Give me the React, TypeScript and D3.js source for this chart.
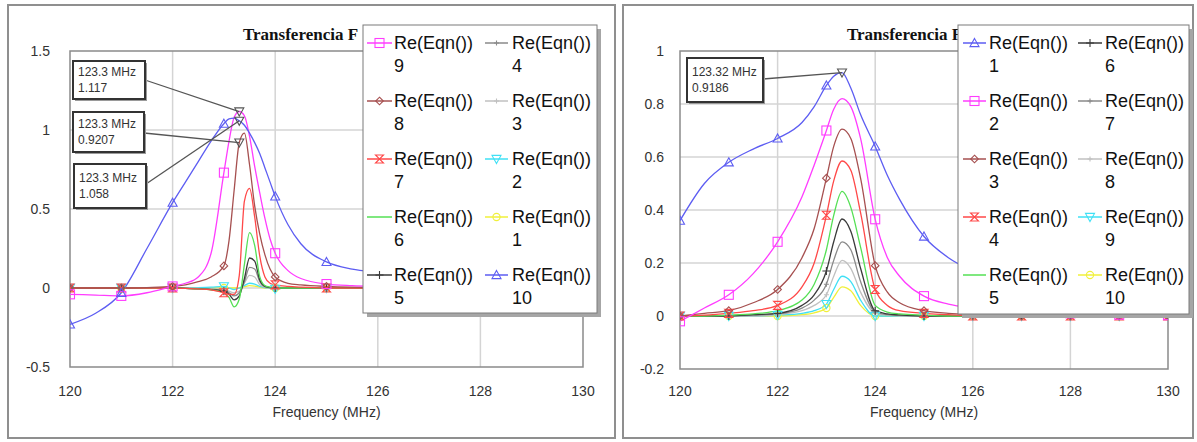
import React from "react";
import * as d3 from "d3";

// ---------- DATA ----------
const freqLeft = [120, 120.5, 121, 121.5, 122, 122.25, 122.5, 122.75, 123, 123.1, 123.2, 123.3, 123.4, 123.5, 123.6, 123.7, 123.8, 123.9, 124, 124.25, 124.5, 125, 125.5, 126, 127, 128, 129, 130];
const left10 = [-0.23, -0.16, -0.03, 0.25, 0.54, 0.67, 0.8, 0.93, 1.04, 1.07, 1.075, 1.058, 1.03, 0.98, 0.92, 0.85, 0.76, 0.67, 0.58, 0.4, 0.28, 0.165, 0.12, 0.1, 0.07, 0.05, 0.04, 0.035];
const left9 = [-0.04, -0.045, -0.05, -0.03, 0.01, 0.03, 0.07, 0.22, 0.73, 0.93, 1.08, 1.117, 1.09, 0.96, 0.77, 0.6, 0.44, 0.31, 0.22, 0.11, 0.06, 0.025, 0.015, 0.01, 0.005, 0.003, 0.002, 0.001];
const left8 = [0, 0, 0, 0.003, 0.01, 0.02, 0.04, 0.07, 0.14, 0.3, 0.62, 0.9207, 0.98, 0.78, 0.52, 0.34, 0.21, 0.12, 0.07, 0.03, 0.02, 0.01, 0.005, 0.003, 0, 0, 0, 0];
const left7 = [0, 0, 0, 0, 0, -0.003, -0.006, -0.012, -0.03, -0.04, -0.04, 0.08, 0.55, 0.63, 0.45, 0.2, 0.07, 0.03, 0.02, 0.01, 0.005, 0, 0, 0, 0, 0, 0, 0];
const left6 = [0, 0, 0, 0, 0, -0.003, -0.006, -0.012, -0.03, -0.06, -0.12, -0.07, 0.15, 0.35, 0.27, 0.07, 0.015, 0.005, 0, 0, 0, 0, 0, 0, 0, 0, 0, 0];
const left5 = [0, 0, 0, 0, 0, -0.002, -0.005, -0.01, -0.02, -0.04, -0.075, -0.05, 0.06, 0.19, 0.17, 0.05, 0.01, 0.003, 0, 0, 0, 0, 0, 0, 0, 0, 0, 0];
const left4 = [0, 0, 0, 0, 0, -0.002, -0.004, -0.008, -0.015, -0.03, -0.05, -0.03, 0.04, 0.13, 0.12, 0.04, 0.008, 0.002, 0, 0, 0, 0, 0, 0, 0, 0, 0, 0];
const left3 = [0, 0, 0, 0, 0, -0.001, -0.003, -0.005, -0.01, -0.02, -0.03, -0.02, 0.03, 0.08, 0.07, 0.02, 0.005, 0, 0, 0, 0, 0, 0, 0, 0, 0, 0, 0];
const left2 = [0, 0, 0, 0, 0, 0, 0.002, 0.005, 0.01, 0, -0.01, 0, 0.015, 0.03, 0.025, 0.01, 0.003, 0, -0.005, 0, 0, 0, 0, 0, 0, 0, 0, 0];
const left1 = [0, 0, 0, 0, 0, 0, 0, 0, 0, 0, 0, 0, 0.008, 0.015, 0.012, 0.005, 0, 0, 0, 0, 0, 0, 0, 0, 0, 0, 0, 0];

const freqRight = [120, 120.5, 121, 121.5, 122, 122.5, 122.75, 123, 123.15, 123.32, 123.5, 123.7, 124, 124.25, 124.5, 125, 125.5, 126, 127, 128, 129, 130];
const right1 = [0.36, 0.5, 0.58, 0.63, 0.67, 0.73, 0.79, 0.87, 0.905, 0.9186, 0.86, 0.76, 0.64, 0.53, 0.44, 0.3, 0.22, 0.17, 0.11, 0.08, 0.06, 0.05];
const right2 = [-0.02, 0.03, 0.08, 0.16, 0.28, 0.45, 0.57, 0.7, 0.78, 0.82, 0.79, 0.67, 0.365, 0.22, 0.15, 0.075, 0.045, 0.03, 0.015, 0.01, 0.005, 0.003];
const right3 = [0, 0.01, 0.02, 0.05, 0.1, 0.22, 0.33, 0.52, 0.64, 0.705, 0.67, 0.52, 0.19, 0.09, 0.05, 0.02, 0.01, 0.005, 0, 0, 0, 0];
const right4 = [0, 0.003, 0.01, 0.02, 0.04, 0.11, 0.2, 0.38, 0.51, 0.585, 0.55, 0.39, 0.1, 0.04, 0.02, 0.01, 0.005, 0, 0, 0, 0, 0];
const right5 = [0, 0, 0.003, 0.008, 0.02, 0.06, 0.12, 0.25, 0.38, 0.47, 0.41, 0.26, 0.04, 0.015, 0.008, 0.003, 0, 0, 0, 0, 0, 0];
const right6 = [0, 0, 0, 0.005, 0.01, 0.04, 0.08, 0.17, 0.28, 0.366, 0.32, 0.18, 0.02, 0.008, 0.004, 0, 0, 0, 0, 0, 0, 0];
const right7 = [0, 0, 0, 0.003, 0.008, 0.03, 0.06, 0.12, 0.21, 0.28, 0.25, 0.13, 0.015, 0.005, 0.002, 0, 0, 0, 0, 0, 0, 0];
const right8 = [0, 0, 0, 0, 0.005, 0.02, 0.04, 0.08, 0.15, 0.21, 0.18, 0.09, 0.01, 0.003, 0, 0, 0, 0, 0, 0, 0, 0];
const right9 = [0, 0, 0, 0, 0.003, 0.01, 0.02, 0.045, 0.1, 0.15, 0.13, 0.06, 0, 0, 0, 0, 0, 0, 0, 0, 0, 0];
const right10 = [0, 0, 0, 0, 0, 0.005, 0.012, 0.03, 0.07, 0.11, 0.095, 0.04, 0, 0, 0, 0, 0, 0, 0, 0, 0, 0];

const xTicks = [120, 122, 124, 126, 128, 130];
const yTicksLeft = [-0.5, 0, 0.5, 1, 1.5];
const yTicksRight = [-0.2, 0, 0.2, 0.4, 0.6, 0.8, 1];

const seriesName = "Re(Eqn())";
const titleText = "Transferencia F";
const xAxisTitle = "Frequency (MHz)";

// style slots: blue, magenta, brown, red, green, dark grey, grey, light grey, cyan, yellow
const slotColors = ["#5d5df2", "#ff3cff", "#a65050", "#ff4848", "#55e055", "#3a3a3a", "#8a8a8a", "#c0c0c0", "#3fe0f5", "#f0f03a"];
const slotMarkers = ["triUp", "square", "diamond", "hourglass", "none", "plus", "plusSmall", "plusSmall", "triDown", "circle"];

const leftLabels = ["10", "9", "8", "7", "6", "5", "4", "3", "2", "1"];
const leftValues = [left10, left9, left8, left7, left6, left5, left4, left3, left2, left1];
const leftLegendOrder = [1, 2, 3, 4, 5, 6, 7, 8, 9, 0];

const rightLabels = ["1", "2", "3", "4", "5", "6", "7", "8", "9", "10"];
const rightValues = [right1, right2, right3, right4, right5, right6, right7, right8, right9, right10];
const rightLegendOrder = [0, 1, 2, 3, 4, 5, 6, 7, 8, 9];

const leftAnnotFreq = [123.3, 123.3, 123.3];
const leftAnnotValue = [1.117, 0.9207, 1.058];
const leftAnnotText = [["123.3 MHz", "1.117"], ["123.3 MHz", "0.9207"], ["123.3 MHz", "1.058"]];
const rightAnnotFreq = [123.32];
const rightAnnotValue = [0.9186];
const rightAnnotText = [["123.32 MHz", "0.9186"]];

// ---------- LAYOUT ----------
const FONT = "'Liberation Sans', Arial, sans-serif";
const SERIF = "'Liberation Serif', 'Times New Roman', serif";

const panelsLayout = [
  {
    id: "L",
    frame: [8, 5, 615, 438],
    plot: { x0: 70, x1: 583, y0: 51, y1: 367 },
    yDomain: [-0.5, 1.5],
    yTicks: yTicksLeft,
    yLabelX: 50,
    titleX: 243,
    legend: { x0: 363, y0: 25, x1: 597, y1: 313, cols: [{ s0: 367, s1: 392, t: 394 }, { s0: 485, s1: 508, t: 512 }] },
    freqs: freqLeft,
    values: leftValues,
    labels: leftLabels,
    legendOrder: leftLegendOrder,
    annotFreq: leftAnnotFreq,
    annotValue: leftAnnotValue,
    annotText: leftAnnotText,
    annotBoxes: [
      { x: 73, y: 61, w: 72, h: 38, ly: 80 },
      { x: 73, y: 112, w: 71, h: 40, ly: 133 },
      { x: 74, y: 164, w: 72, h: 44, ly: 184 },
    ],
  },
  {
    id: "R",
    frame: [623, 5, 1193, 438],
    plot: { x0: 680, x1: 1168, y0: 51, y1: 369 },
    yDomain: [-0.2, 1],
    yTicks: yTicksRight,
    yLabelX: 664,
    titleX: 847,
    legend: { x0: 958, y0: 25, x1: 1189, y1: 314, cols: [{ s0: 963, s1: 986, t: 989 }, { s0: 1078, s1: 1102, t: 1105 }] },
    freqs: freqRight,
    values: rightValues,
    labels: rightLabels,
    legendOrder: rightLegendOrder,
    annotFreq: rightAnnotFreq,
    annotValue: rightAnnotValue,
    annotText: rightAnnotText,
    annotBoxes: [{ x: 687, y: 58, w: 76, h: 44, ly: 79 }],
  },
];

function Marker({ type, x, y, color, sw = 1.1 }: { type: string; x: number; y: number; color: string; sw?: number }) {
  const common = { stroke: color, strokeWidth: sw, fill: "none" };
  switch (type) {
    case "triUp": {
      const s = 4.5;
      return <path d={`M${x},${y - s}L${x + s},${y + s * 0.8}L${x - s},${y + s * 0.8}Z`} {...common} />;
    }
    case "triDown": {
      const s = 4.5;
      return <path d={`M${x},${y + s}L${x + s},${y - s * 0.8}L${x - s},${y - s * 0.8}Z`} {...common} />;
    }
    case "square":
      return <rect x={x - 4.5} y={y - 4.5} width={9} height={9} {...common} />;
    case "diamond": {
      const s = 3.8;
      return <path d={`M${x},${y - s}L${x + s},${y}L${x},${y + s}L${x - s},${y}Z`} {...common} />;
    }
    case "hourglass": {
      const s = 4;
      return <path d={`M${x - s},${y - s}L${x + s},${y - s}L${x - s},${y + s}L${x + s},${y + s}Z`} {...common} />;
    }
    case "plus": {
      const s = 4;
      return <path d={`M${x - s},${y}H${x + s}M${x},${y - s}V${y + s}`} {...common} />;
    }
    case "plusSmall": {
      const s = 2.5;
      return <path d={`M${x - s},${y}H${x + s}M${x},${y - s}V${y + s}`} {...common} />;
    }
    case "circle":
      return <circle cx={x} cy={y} r={3.6} {...common} />;
    default:
      return null;
  }
}

function Panel({ cfg }: { cfg: any }) {
  const { plot, frame, legend } = cfg;
  const x = d3.scaleLinear().domain([120, 130]).range([plot.x0, plot.x1]);
  const y = d3.scaleLinear().domain(cfg.yDomain).range([plot.y1, plot.y0]);
  const line = d3
    .line<number>()
    .x((_, i) => x(cfg.freqs[i]))
    .y((v) => y(v))
    .curve(d3.curveMonotoneX);
  const clipId = `clip${cfg.id}`;
  const drawOrder = d3.range(cfg.values.length).reverse();
  const integerIdx = cfg.freqs.map((f: number, i: number) => (Number.isInteger(f) ? i : -1)).filter((i: number) => i >= 0);

  return (
    <g>
      <rect x={frame[0]} y={frame[1]} width={frame[2] - frame[0]} height={frame[3] - frame[1]} fill="#fff" stroke="#8f8f8f" strokeWidth={2} />
      <text x={cfg.titleX} y={40} fontFamily={SERIF} fontWeight="bold" fontSize={17} fill="#111">
        {titleText}
      </text>
      <defs>
        <clipPath id={clipId}>
          <rect x={plot.x0} y={plot.y0} width={plot.x1 - plot.x0} height={plot.y1 - plot.y0} />
        </clipPath>
      </defs>
      {/* grid */}
      {cfg.yTicks.slice(1, -1).map((t: number) => (
        <line key={`gy${t}`} x1={plot.x0} x2={plot.x1} y1={y(t)} y2={y(t)} stroke="#d4d4d4" strokeWidth={1.5} />
      ))}
      {xTicks.slice(1, -1).map((t) => (
        <line key={`gx${t}`} x1={x(t)} x2={x(t)} y1={plot.y0} y2={plot.y1} stroke="#d4d4d4" strokeWidth={1.5} />
      ))}
      <rect x={plot.x0} y={plot.y0} width={plot.x1 - plot.x0} height={plot.y1 - plot.y0} fill="none" stroke="#8a8a8a" strokeWidth={1.5} />
      {/* tick labels */}
      {cfg.yTicks.map((t: number) => (
        <text key={`ty${t}`} x={cfg.yLabelX} y={y(t) + 5} textAnchor="end" fontFamily={FONT} fontSize={14} fill="#333">
          {String(t)}
        </text>
      ))}
      {xTicks.map((t) => (
        <text key={`tx${t}`} x={x(t)} y={396} textAnchor="middle" fontFamily={FONT} fontSize={14} fill="#333">
          {String(t)}
        </text>
      ))}
      <text x={(plot.x0 + plot.x1) / 2} y={417} textAnchor="middle" fontFamily={FONT} fontSize={14} fill="#333">
        {xAxisTitle}
      </text>
      {/* curves */}
      <g clipPath={`url(#${clipId})`}>
        {drawOrder.map((s: number) => (
          <path key={`c${s}`} d={line(cfg.values[s]) || ""} fill="none" stroke={slotColors[s]} strokeWidth={1.3} />
        ))}
        {drawOrder.map((s: number) =>
          integerIdx.map((i: number) => (
            <Marker key={`m${s}-${i}`} type={slotMarkers[s]} x={x(cfg.freqs[i])} y={y(cfg.values[s][i])} color={slotColors[s]} />
          ))
        )}
      </g>
      {/* annotations */}
      {cfg.annotBoxes.map((b: any, k: number) => {
        const px = x(cfg.annotFreq[k]);
        const py = y(cfg.annotValue[k]);
        return (
          <g key={`a${k}`}>
            <line x1={b.x + b.w} y1={b.ly} x2={px} y2={py} stroke="#555" strokeWidth={1.3} />
            <Marker type="triDown" x={px} y={py} color="#555" />
            <rect x={b.x + 2} y={b.y + 2} width={b.w} height={b.h} fill="#9a9a9a" />
            <rect x={b.x} y={b.y} width={b.w} height={b.h} fill="#fff" stroke="#333" strokeWidth={2} />
            <text x={b.x + 5} y={b.y + b.h / 2 - 4} fontFamily={FONT} fontSize={12} fill="#333">
              {cfg.annotText[k][0]}
            </text>
            <text x={b.x + 5} y={b.y + b.h / 2 + 12} fontFamily={FONT} fontSize={12} fill="#333">
              {cfg.annotText[k][1]}
            </text>
          </g>
        );
      })}
      {/* legend */}
      <rect x={legend.x0 + 4} y={legend.y0 + 4} width={legend.x1 - legend.x0} height={legend.y1 - legend.y0} fill="#a6a6a6" />
      <rect x={legend.x0} y={legend.y0} width={legend.x1 - legend.x0} height={legend.y1 - legend.y0} fill="#fff" stroke="#7a7a7a" strokeWidth={1} />
      {cfg.legendOrder.map((s: number, k: number) => {
        const col = legend.cols[Math.floor(k / 5)];
        const row = k % 5;
        const ly = 43 + row * 58;
        const mx = (col.s0 + col.s1) / 2;
        return (
          <g key={`l${k}`}>
            <line x1={col.s0} x2={col.s1} y1={ly} y2={ly} stroke={slotColors[s]} strokeWidth={1.5} />
            <Marker type={slotMarkers[s]} x={mx} y={ly} color={slotColors[s]} />
            <text x={col.t} y={ly + 6} fontFamily={FONT} fontSize={18} fill="#111">
              {seriesName}
            </text>
            <text x={col.t} y={ly + 29} fontFamily={FONT} fontSize={18} fill="#111">
              {cfg.labels[s]}
            </text>
          </g>
        );
      })}
    </g>
  );
}

export default function App() {
  return (
    <div style={{ position: "absolute", left: 0, top: 0, width: 1197, height: 442, background: "#fff" }}>
      <svg width={1197} height={442} viewBox="0 0 1197 442" style={{ display: "block" }}>
        <rect width={1197} height={442} fill="#fff" />
        {panelsLayout.map((p) => (
          <Panel key={p.id} cfg={p} />
        ))}
      </svg>
    </div>
  );
}
